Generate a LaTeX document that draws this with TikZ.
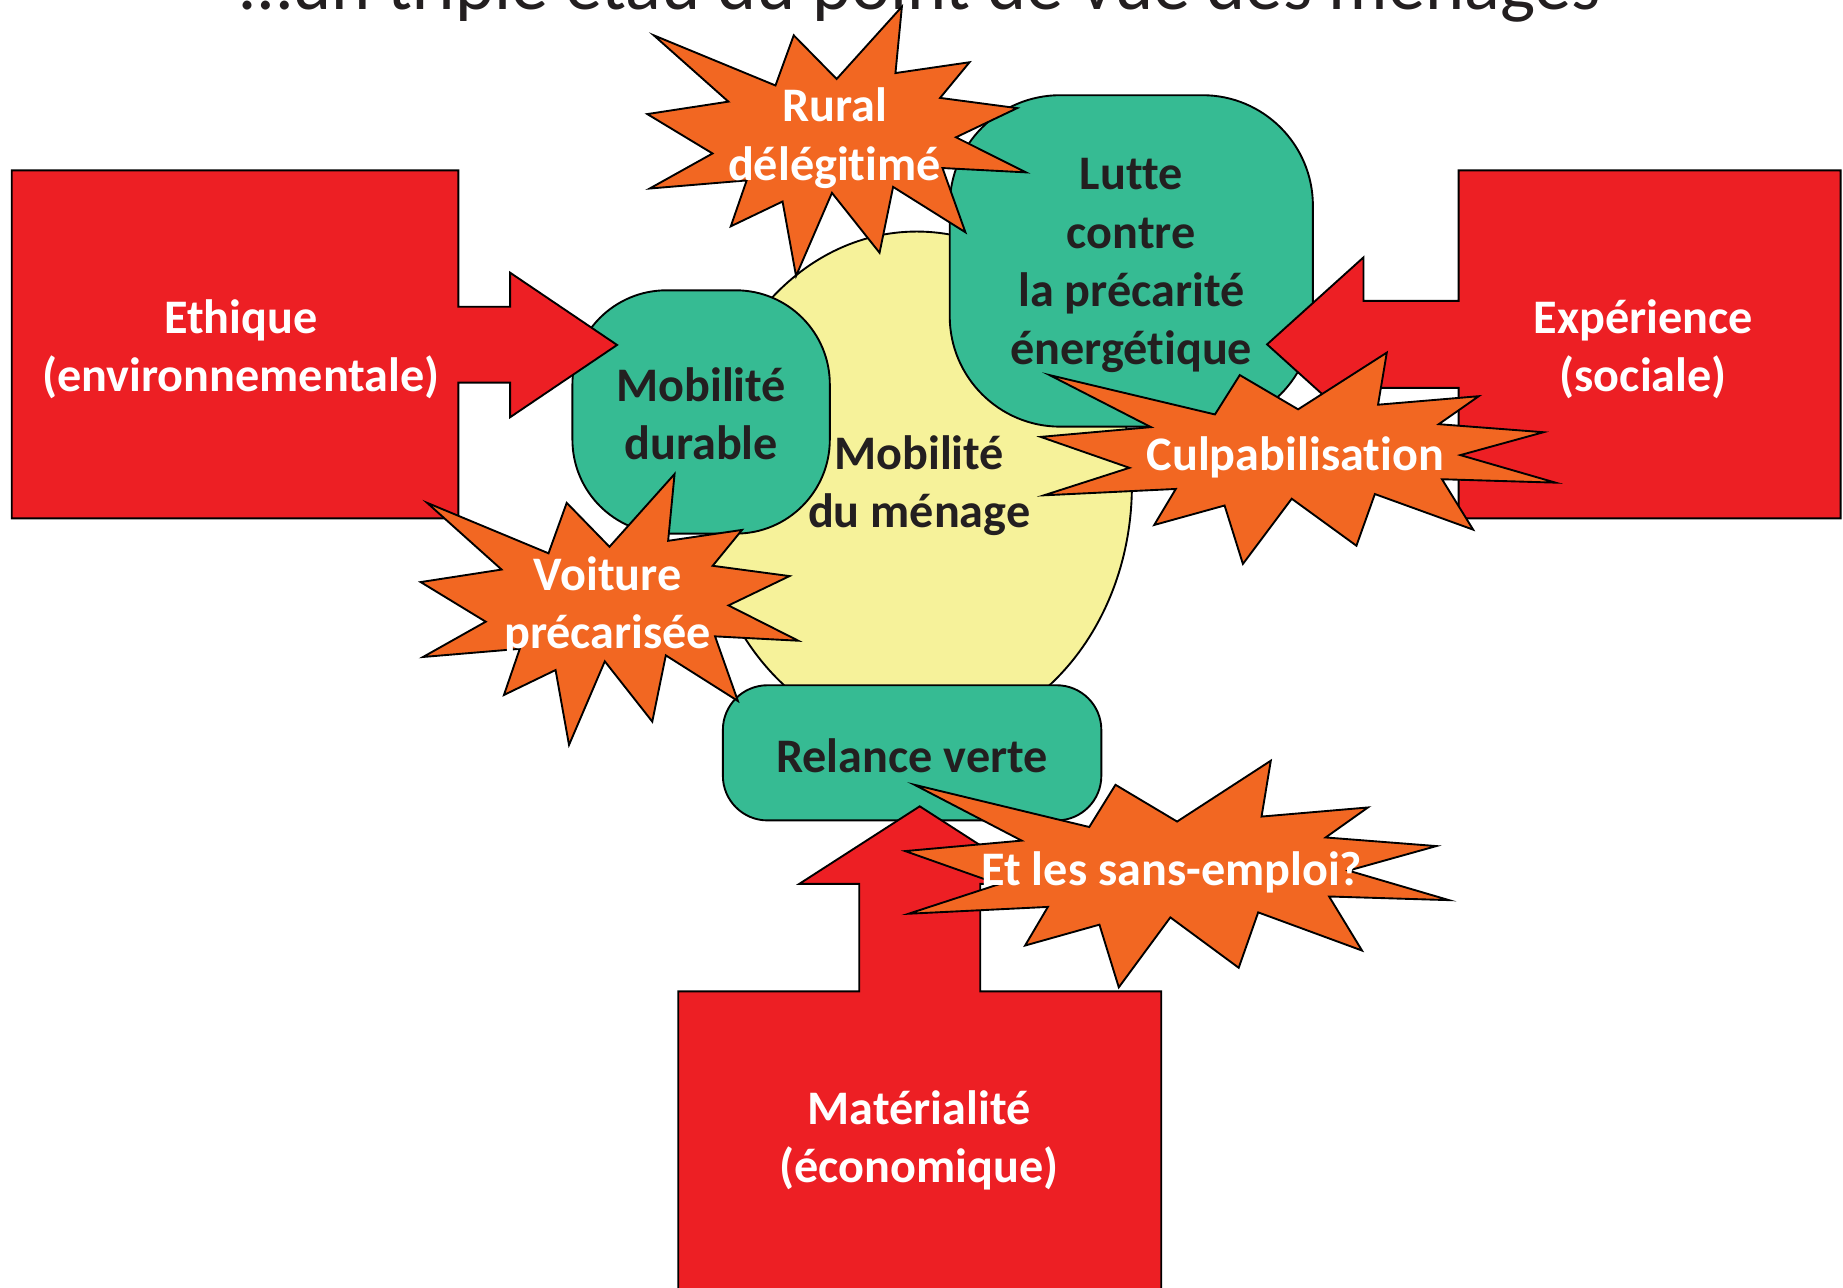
\documentclass[tikz,border=0pt]{standalone}
\usepackage{fontspec}
\setmainfont{Carlito}[Ligatures=NoCommon]
\usetikzlibrary{shapes.geometric}
\definecolor{blockred}{HTML}{ED1F24}
\definecolor{boxgreen}{HTML}{36BB93}
\definecolor{menageyellow}{HTML}{F6F29A}
\definecolor{burstorange}{HTML}{F26722}
\definecolor{darktext}{HTML}{231F20}
\tikzset{
  shapeline/.style={draw=black, line width=0.8pt},
  blockarrow/.style={shapeline, fill=blockred},
  greenbox/.style={shapeline, fill=boxgreen, rectangle, inner sep=0pt},
  burstshape/.style={shapeline, fill=burstorange},
  lbl/.style={font=\bfseries\fontsize{20.5}{24.75}\selectfont, text=darktext, align=center, inner sep=0pt},
  whitelbl/.style={lbl, text=white},
}
% PowerPoint "Explosion 1" outline, in a 100 x 100 frame
\newcommand\drawburst[4]{%
  \begin{scope}[shift={(#1,#2)}, xscale=#3/100, yscale=#4/100]
    \draw[burstshape] (50,26.85) -- (67.23,0) -- (65.53,24.65) -- (85.09,20.63) -- (77.32,33.87)
      -- (97.67,37.67) -- (81.51,48.50) -- (100,61.53) -- (77.95,59.92) -- (84.00,83.77)
      -- (64.91,66.93) -- (61.33,91.38) -- (48.76,69.14) -- (39.28,100) -- (35.72,72.35)
      -- (22.05,81.56) -- (26.24,64.52) -- (0.625,67.53) -- (17.23,54.51) -- (0,39.88)
      -- (21.42,35.26) -- (1.71,10.63) -- (33.85,29.26) -- (38.67,10.63) -- cycle;
  \end{scope}}
\begin{document}
\begin{tikzpicture}[x=0.5pt,y=-0.5pt]
\path[use as bounding box] (0,0) rectangle (1568,1095);
\clip (0,0) rectangle (1568,1095);

% title (cut off at the top of the picture)
\node[anchor=base, text=darktext, inner sep=0pt] (title) at (783.5,8)
  {\resizebox{578.5pt}{!}{\fontsize{30}{36}\selectfont …un triple étau du point de vue des ménages}};

% central ellipse
\node[ellipse, shapeline, fill=menageyellow, minimum width=183pt, minimum height=216pt, inner sep=0pt] (menage) at (780,413) {};
\node[lbl] (menagetxt) at (782,413) {Mobilité\\du ménage};

% green rounded boxes
\node[shape=rectangle, greenbox, minimum width=109.5pt, minimum height=103.5pt, rounded corners=40pt] (durable) at (596.5,350.5) {};
\node[lbl] (durabletxt) at (596.5,352) {Mobilité\\durable};
\node[shape=rectangle, greenbox, minimum width=154.5pt, minimum height=141pt, rounded corners=47pt] (lutte) at (962.5,222) {};
\node[lbl] (luttetxt) at (962.5,226) {Lutte\\contre\\la précarité\\énergétique};
\node[shape=rectangle, greenbox, minimum width=161pt, minimum height=57.5pt, rounded corners=19pt] (relance) at (776,640.5) {};
\node[lbl] (relancetxt) at (776,643) {Relance verte};

% red block arrows
\draw[blockarrow] (10,145) -- (390,145) -- (390,261) -- (434,261) -- (434,232) -- (525,293.5)
  -- (434,355) -- (434,325.5) -- (390,325.5) -- (390,441) -- (10,441) -- cycle;
\node[whitelbl] (ethique) at (205,297) {Ethique\\(environnementale)};

\draw[blockarrow] (1566,145) -- (1241,145) -- (1241,256) -- (1160,256) -- (1160,219) -- (1078,293)
  -- (1160,367) -- (1160,330) -- (1241,330) -- (1241,441) -- (1566,441) -- cycle;
\node[whitelbl] (experience) at (1398,297) {Expérience\\(sociale)};

\draw[blockarrow] (577,1110) -- (577,843.5) -- (731,843.5) -- (731,752) -- (680,752) -- (782.5,686)
  -- (885,752) -- (834,752) -- (834,843.5) -- (988,843.5) -- (988,1110) -- cycle;
\node[whitelbl] (materialite) at (782,970) {Matérialité\\(économique)};

% orange bursts
\drawburst{550.7}{5.7}{322.2}{229.1}
\node[whitelbl] (rural) at (710,117.5) {Rural\\délégitimé};

\drawburst{357.9}{403.3}{321.3}{230.5}
\node[whitelbl] (voiture) at (517,516) {Voiture\\précarisée};

\drawburst{885.4}{300}{438}{179.8}
\node[whitelbl] (culpa) at (1102,389) {Culpabilisation};

\drawburst{770.1}{647.2}{462.7}{192.8}
\node[whitelbl] (sansemploi) at (997,742) {Et les sans-emploi?};
\end{tikzpicture}
\end{document}
